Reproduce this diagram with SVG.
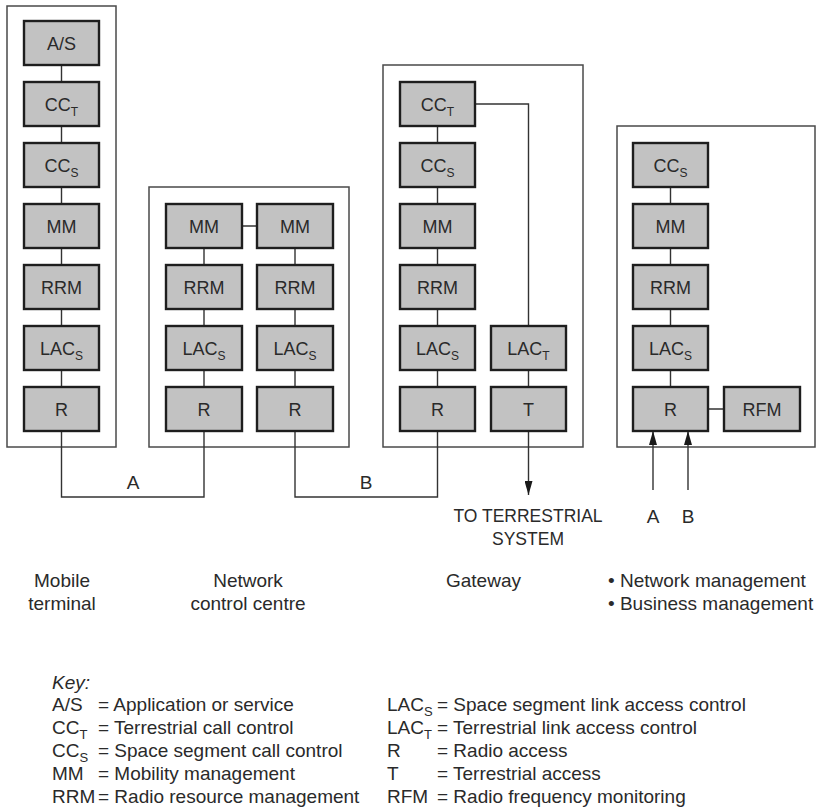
<svg xmlns="http://www.w3.org/2000/svg" width="820" height="811" viewBox="0 0 820 811">
<style>
.bg{fill:#ffffff}
.cont{fill:#ffffff;stroke:#4a4a4a;stroke-width:1.5}
.box{fill:#c2c2c2;stroke:#1e1e1e;stroke-width:2.4}
.bl{font-family:"Liberation Sans",Arial,sans-serif;font-size:18px;fill:#2a2a2a;text-anchor:middle}
.sub{font-size:12px}
.ln{fill:none;stroke:#333;stroke-width:1.4}
.lab{font-family:"Liberation Sans",Arial,sans-serif;font-size:19px;fill:#2a2a2a}
.key{font-family:"Liberation Sans",Arial,sans-serif;font-size:19px;fill:#2a2a2a}
.ks{font-size:13px}
.mid{text-anchor:middle}
</style>
<defs>
<marker id="arr" viewBox="0 0 14 8" refX="14" refY="4" markerWidth="14" markerHeight="8" markerUnits="userSpaceOnUse" orient="auto">
<path d="M0,0 L14,4 L0,8 z" fill="#1a1a1a"/>
</marker>
</defs>
<rect class="bg" x="0" y="0" width="820" height="811"/>

<!-- containers -->
<g id="mobile-terminal"><rect class="cont" x="7" y="6" width="109" height="441"/></g>
<g id="network-control-centre"><rect class="cont" x="149" y="187" width="200" height="260"/></g>
<g id="gateway"><rect class="cont" x="383" y="65" width="200" height="382"/></g>
<g id="management"><rect class="cont" x="617" y="126" width="198" height="321"/></g>

<!-- connectors -->
<g id="connectors">
<path class="ln" d="M61.5,65 V82 M61.5,126 V143 M61.5,187 V204 M61.5,248 V265 M61.5,309 V326 M61.5,370 V387"/>
<path class="ln" d="M204,248 V265 M204,309 V326 M204,370 V387 M295,248 V265 M295,309 V326 M295,370 V387 M242,226 H257"/>
<path class="ln" d="M437.5,126 V143 M437.5,187 V204 M437.5,248 V265 M437.5,309 V326 M437.5,370 V387 M528.5,370 V387"/>
<path class="ln" d="M475,104 H528.5 V326"/>
<path class="ln" d="M670.5,187 V204 M670.5,248 V265 M670.5,309 V326 M670.5,370 V387 M708,409 H724"/>
<path class="ln" d="M61.5,431 V497 H204 V431"/>
<path class="ln" d="M295,431 V497 H437.5 V431"/>
<line class="ln" x1="528.5" y1="431" x2="528.5" y2="495" marker-end="url(#arr)"/>
<line class="ln" x1="653" y1="490" x2="653" y2="431" marker-end="url(#arr)"/>
<line class="ln" x1="688" y1="490" x2="688" y2="431" marker-end="url(#arr)"/>
<text class="lab mid" x="133" y="489">A</text>
<text class="lab mid" x="366" y="489">B</text>
<text class="lab mid" x="653" y="523">A</text>
<text class="lab mid" x="688" y="523">B</text>
<text class="lab mid" x="528" y="522" style="font-size:17.5px">TO TERRESTRIAL</text>
<text class="lab mid" x="528" y="545" style="font-size:17.5px">SYSTEM</text>
</g>

<!-- mobile terminal nodes -->
<g id="mt-as"><rect class="box" x="24" y="21" width="75" height="44"/><text class="bl" x="61.5" y="49.5">A/S</text></g>
<g id="mt-cct"><rect class="box" x="24" y="82" width="75" height="44"/><text class="bl" x="61.5" y="110.5">CC<tspan class="sub" dy="5">T</tspan></text></g>
<g id="mt-ccs"><rect class="box" x="24" y="143" width="75" height="44"/><text class="bl" x="61.5" y="171.5">CC<tspan class="sub" dy="5">S</tspan></text></g>
<g id="mt-mm"><rect class="box" x="24" y="204" width="75" height="44"/><text class="bl" x="61.5" y="232.5">MM</text></g>
<g id="mt-rrm"><rect class="box" x="24" y="265" width="75" height="44"/><text class="bl" x="61.5" y="293.5">RRM</text></g>
<g id="mt-lacs"><rect class="box" x="24" y="326" width="75" height="44"/><text class="bl" x="61.5" y="354.5">LAC<tspan class="sub" dy="5">S</tspan></text></g>
<g id="mt-r"><rect class="box" x="24" y="387" width="75" height="44"/><text class="bl" x="61.5" y="415.5">R</text></g>

<!-- network control centre nodes -->
<g id="ncc1-mm"><rect class="box" x="166" y="204" width="76" height="44"/><text class="bl" x="204" y="232.5">MM</text></g>
<g id="ncc1-rrm"><rect class="box" x="166" y="265" width="76" height="44"/><text class="bl" x="204" y="293.5">RRM</text></g>
<g id="ncc1-lacs"><rect class="box" x="166" y="326" width="76" height="44"/><text class="bl" x="204" y="354.5">LAC<tspan class="sub" dy="5">S</tspan></text></g>
<g id="ncc1-r"><rect class="box" x="166" y="387" width="76" height="44"/><text class="bl" x="204" y="415.5">R</text></g>
<g id="ncc2-mm"><rect class="box" x="257" y="204" width="76" height="44"/><text class="bl" x="295" y="232.5">MM</text></g>
<g id="ncc2-rrm"><rect class="box" x="257" y="265" width="76" height="44"/><text class="bl" x="295" y="293.5">RRM</text></g>
<g id="ncc2-lacs"><rect class="box" x="257" y="326" width="76" height="44"/><text class="bl" x="295" y="354.5">LAC<tspan class="sub" dy="5">S</tspan></text></g>
<g id="ncc2-r"><rect class="box" x="257" y="387" width="76" height="44"/><text class="bl" x="295" y="415.5">R</text></g>

<!-- gateway nodes -->
<g id="gw-cct"><rect class="box" x="400" y="82" width="75" height="44"/><text class="bl" x="437.5" y="110.5">CC<tspan class="sub" dy="5">T</tspan></text></g>
<g id="gw-ccs"><rect class="box" x="400" y="143" width="75" height="44"/><text class="bl" x="437.5" y="171.5">CC<tspan class="sub" dy="5">S</tspan></text></g>
<g id="gw-mm"><rect class="box" x="400" y="204" width="75" height="44"/><text class="bl" x="437.5" y="232.5">MM</text></g>
<g id="gw-rrm"><rect class="box" x="400" y="265" width="75" height="44"/><text class="bl" x="437.5" y="293.5">RRM</text></g>
<g id="gw-lacs"><rect class="box" x="400" y="326" width="75" height="44"/><text class="bl" x="437.5" y="354.5">LAC<tspan class="sub" dy="5">S</tspan></text></g>
<g id="gw-r"><rect class="box" x="400" y="387" width="75" height="44"/><text class="bl" x="437.5" y="415.5">R</text></g>
<g id="gw-lact"><rect class="box" x="491" y="326" width="75" height="44"/><text class="bl" x="528.5" y="354.5">LAC<tspan class="sub" dy="5">T</tspan></text></g>
<g id="gw-t"><rect class="box" x="491" y="387" width="75" height="44"/><text class="bl" x="528.5" y="415.5">T</text></g>

<!-- management nodes -->
<g id="nm-ccs"><rect class="box" x="633" y="143" width="75" height="44"/><text class="bl" x="670.5" y="171.5">CC<tspan class="sub" dy="5">S</tspan></text></g>
<g id="nm-mm"><rect class="box" x="633" y="204" width="75" height="44"/><text class="bl" x="670.5" y="232.5">MM</text></g>
<g id="nm-rrm"><rect class="box" x="633" y="265" width="75" height="44"/><text class="bl" x="670.5" y="293.5">RRM</text></g>
<g id="nm-lacs"><rect class="box" x="633" y="326" width="75" height="44"/><text class="bl" x="670.5" y="354.5">LAC<tspan class="sub" dy="5">S</tspan></text></g>
<g id="nm-r"><rect class="box" x="633" y="387" width="75" height="44"/><text class="bl" x="670.5" y="415.5">R</text></g>
<g id="nm-rfm"><rect class="box" x="724" y="387" width="76" height="44"/><text class="bl" x="762" y="415.5">RFM</text></g>

<!-- group labels -->
<g id="labels">
<text class="lab mid" x="62" y="587">Mobile</text>
<text class="lab mid" x="62" y="610">terminal</text>
<text class="lab mid" x="248" y="587">Network</text>
<text class="lab mid" x="248" y="610">control centre</text>
<text class="lab" x="446" y="587">Gateway</text>
<text class="lab" x="608" y="587">• Network management</text>
<text class="lab" x="608" y="610">• Business management</text>
</g>

<!-- key -->
<g id="key">
<text class="key" x="52" y="689" font-style="italic">Key:</text>
<text class="key" x="52" y="711">A/S</text>
<text class="key" x="98" y="711">= Application or service</text>
<text class="key" x="52" y="734">CC<tspan class="ks" dy="5">T</tspan></text>
<text class="key" x="98" y="734">= Terrestrial call control</text>
<text class="key" x="52" y="757">CC<tspan class="ks" dy="5">S</tspan></text>
<text class="key" x="98" y="757">= Space segment call control</text>
<text class="key" x="52" y="780">MM</text>
<text class="key" x="98" y="780">= Mobility management</text>
<text class="key" x="52" y="803">RRM</text>
<text class="key" x="98" y="803">= Radio resource management</text>
<text class="key" x="387" y="711">LAC<tspan class="ks" dy="5">S</tspan></text>
<text class="key" x="437" y="711">= Space segment link access control</text>
<text class="key" x="387" y="734">LAC<tspan class="ks" dy="5">T</tspan></text>
<text class="key" x="437" y="734">= Terrestrial link access control</text>
<text class="key" x="387" y="757">R</text>
<text class="key" x="437" y="757">= Radio access</text>
<text class="key" x="387" y="780">T</text>
<text class="key" x="437" y="780">= Terrestrial access</text>
<text class="key" x="387" y="803">RFM</text>
<text class="key" x="437" y="803">= Radio frequency monitoring</text>
</g>
</svg>
